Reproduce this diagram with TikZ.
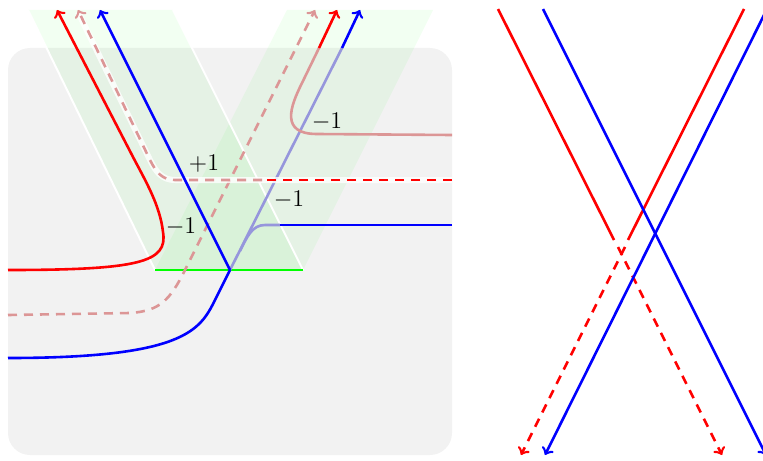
\documentclass[tikz,border=0pt]{standalone}
\definecolor{fadedred}{RGB}{220,150,150}
\definecolor{fadedblue}{RGB}{150,150,220}
\begin{document}
\begin{tikzpicture}[x=0.5pt, y=-0.5pt, line width=1.3pt,
		band/.style={fill=green, fill opacity=0.05},
		dsh/.style={dash pattern=on 4.5pt off 3.5pt},
		lbl/.style={font=\fontsize{12}{14}\selectfont, inner sep=0pt}]
		\useasboundingbox (0,0) rectangle (763,460);
		
		% surface and the two strips
		\fill[gray!10, rounded corners=11pt] (8,48) rectangle (452,455);
		\fill[band] (28,10) -- (173,10) -- (303,270) -- (155,270) -- cycle;
		\fill[band] (287,10) -- (433,10) -- (303,270) -- (155,270) -- cycle;
		\draw[white, line width=1pt] (28,10) -- (155,270);
		\draw[white, line width=1pt] (173,10) -- (303,270);
		
		\coordinate (o) at (230,270);
		\coordinate (gl) at (155,270);
		\coordinate (gr) at (303,270);
		\draw[green] (gl) -- (gr);
		
		% faded parts
		\draw[fadedblue] (o) -- (342,48);
		\draw[fadedblue] (280,225) -- (265,225) .. controls (252,225) and (247,237) .. (240,251);
		\draw[fadedred] (452,135) -- (317,134) .. controls (280,134) and (290,107) .. (302,83) -- (319,48);
		\draw[fadedred, dsh, ->] (8,315) -- (130,313) .. controls (160,311) and (170,300) .. (185,270) -- (315,10);
		\draw[white, line width=3pt, opacity=0.8] (452,180) -- (175,180) .. controls (162,180) and (156,172) .. (150,160) -- (78,12);
		\draw[fadedred, dsh, ->] (262,180) -- (175,180) .. controls (162,180) and (156,172) .. (150,160) -- (78,10);
		
		% full colour parts
		\draw[red, dsh] (452,180) -- (262,180);
		\draw[blue] (452,225) -- (280,225);
		\draw[blue, ->] (342,48) -- (360,10);
		\draw[red, ->] (319,48) -- (337,10);
		\draw[red, ->] (8,270) .. controls (140,270) and (168,262) .. (163,232) .. controls (160,205) and (145,180) .. (133,157) -- (57,10);
		\draw[blue] (8,358) .. controls (185,358) and (200,330) .. (215,300) -- (o);
		\draw[blue, ->] (o) -- (100,10);
		
		\node[lbl] (pa) at (204,164) {$+1$};
		\node[lbl] (ma) at (181,227) {$-1$};
		\node[lbl] (mb) at (289,200) {$-1$};
		\node[lbl] (mc) at (327,122) {$-1$};
		
		% second picture
		\draw[red] (498,9) -- (614,240);
		\draw[red, dsh, ->] (618,247) -- (722,455);
		\draw[red] (744,9) -- (628,240);
		\draw[red, dsh, ->] (625,247) -- (521,455);
		\draw[blue, ->] (543,9) -- (766,455);
		\draw[blue, ->] (767,9) -- (545,455);
	\end{tikzpicture}
\end{document}
